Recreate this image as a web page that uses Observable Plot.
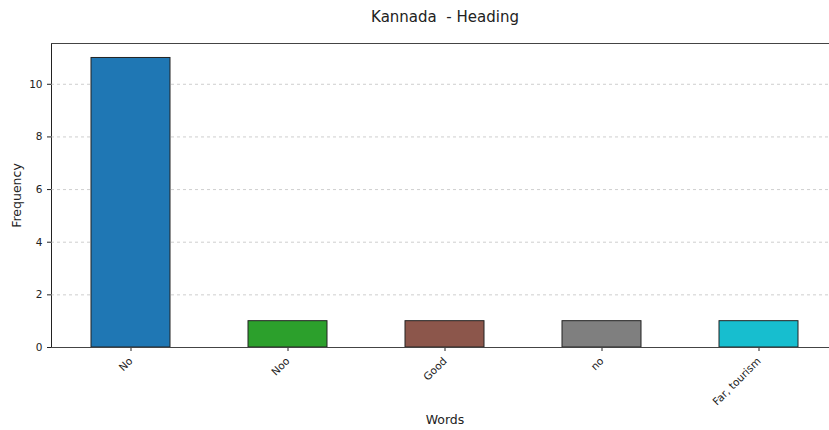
<!DOCTYPE html>
<html>
<head>
<meta charset="utf-8">
<script src="https://cdn.jsdelivr.net/npm/d3@7"></script>
<script src="https://cdn.jsdelivr.net/npm/@observablehq/plot@0.6"></script>
<style>
  html, body { margin: 0; padding: 0; background: #fff; }
</style>
</head>
<body>
<div id="chart"></div>
<script>
const title = "Kannada  - Heading";
const words = ["No", "Noo", "Good", "no", "Far, tourism"];
const counts = [11, 1, 1, 1, 1];
const barColors = ["#1f77b4", "#2ca02c", "#8c564b", "#7f7f7f", "#17becf"];
const yTicks = [0, 2, 4, 6, 8, 10];
const yMax = 11.55;
const xLabel = "Words";
const yLabel = "Frequency";

const data = words.map((w, i) => ({word: w, count: counts[i]}));

const chart = Plot.plot({
  width: 829,
  height: 430,
  marginTop: 43,
  marginBottom: 83,
  marginLeft: 51,
  marginRight: -9,
  style: {fontFamily: "DejaVu Sans", fontSize: "10.5px", color: "#222", background: "#fff"},
  x: {type: "band", domain: words, paddingInner: 0.5, paddingOuter: 0.25, tickRotate: -45, tickSize: 4, label: null},
  y: {domain: [0, yMax], ticks: yTicks, tickSize: 4, label: null, line: true},
  color: {domain: words, range: barColors},
  marks: [
    Plot.gridY(yTicks.slice(1), {stroke: "#bbb", strokeOpacity: 0.7, strokeDasharray: "3,3"}),
    Plot.barY(data, {x: "word", y: "count", fill: "word", stroke: "#222", strokeWidth: 1}),
    Plot.ruleY([0, yMax], {stroke: "#444"}),
    Plot.text([title], {frameAnchor: "top", dy: -26, lineAnchor: "middle", fontSize: 15, fill: "#222"}),
    Plot.text([xLabel], {frameAnchor: "bottom", dy: 72, lineAnchor: "middle", fontSize: 12.5, fill: "#222"}),
    Plot.text([yLabel], {frameAnchor: "left", dx: -35, rotate: -90, textAnchor: "middle", lineAnchor: "middle", fontSize: 12.5, fill: "#222"})
  ]
});
document.getElementById("chart").appendChild(chart);
</script>
</body>
</html>
